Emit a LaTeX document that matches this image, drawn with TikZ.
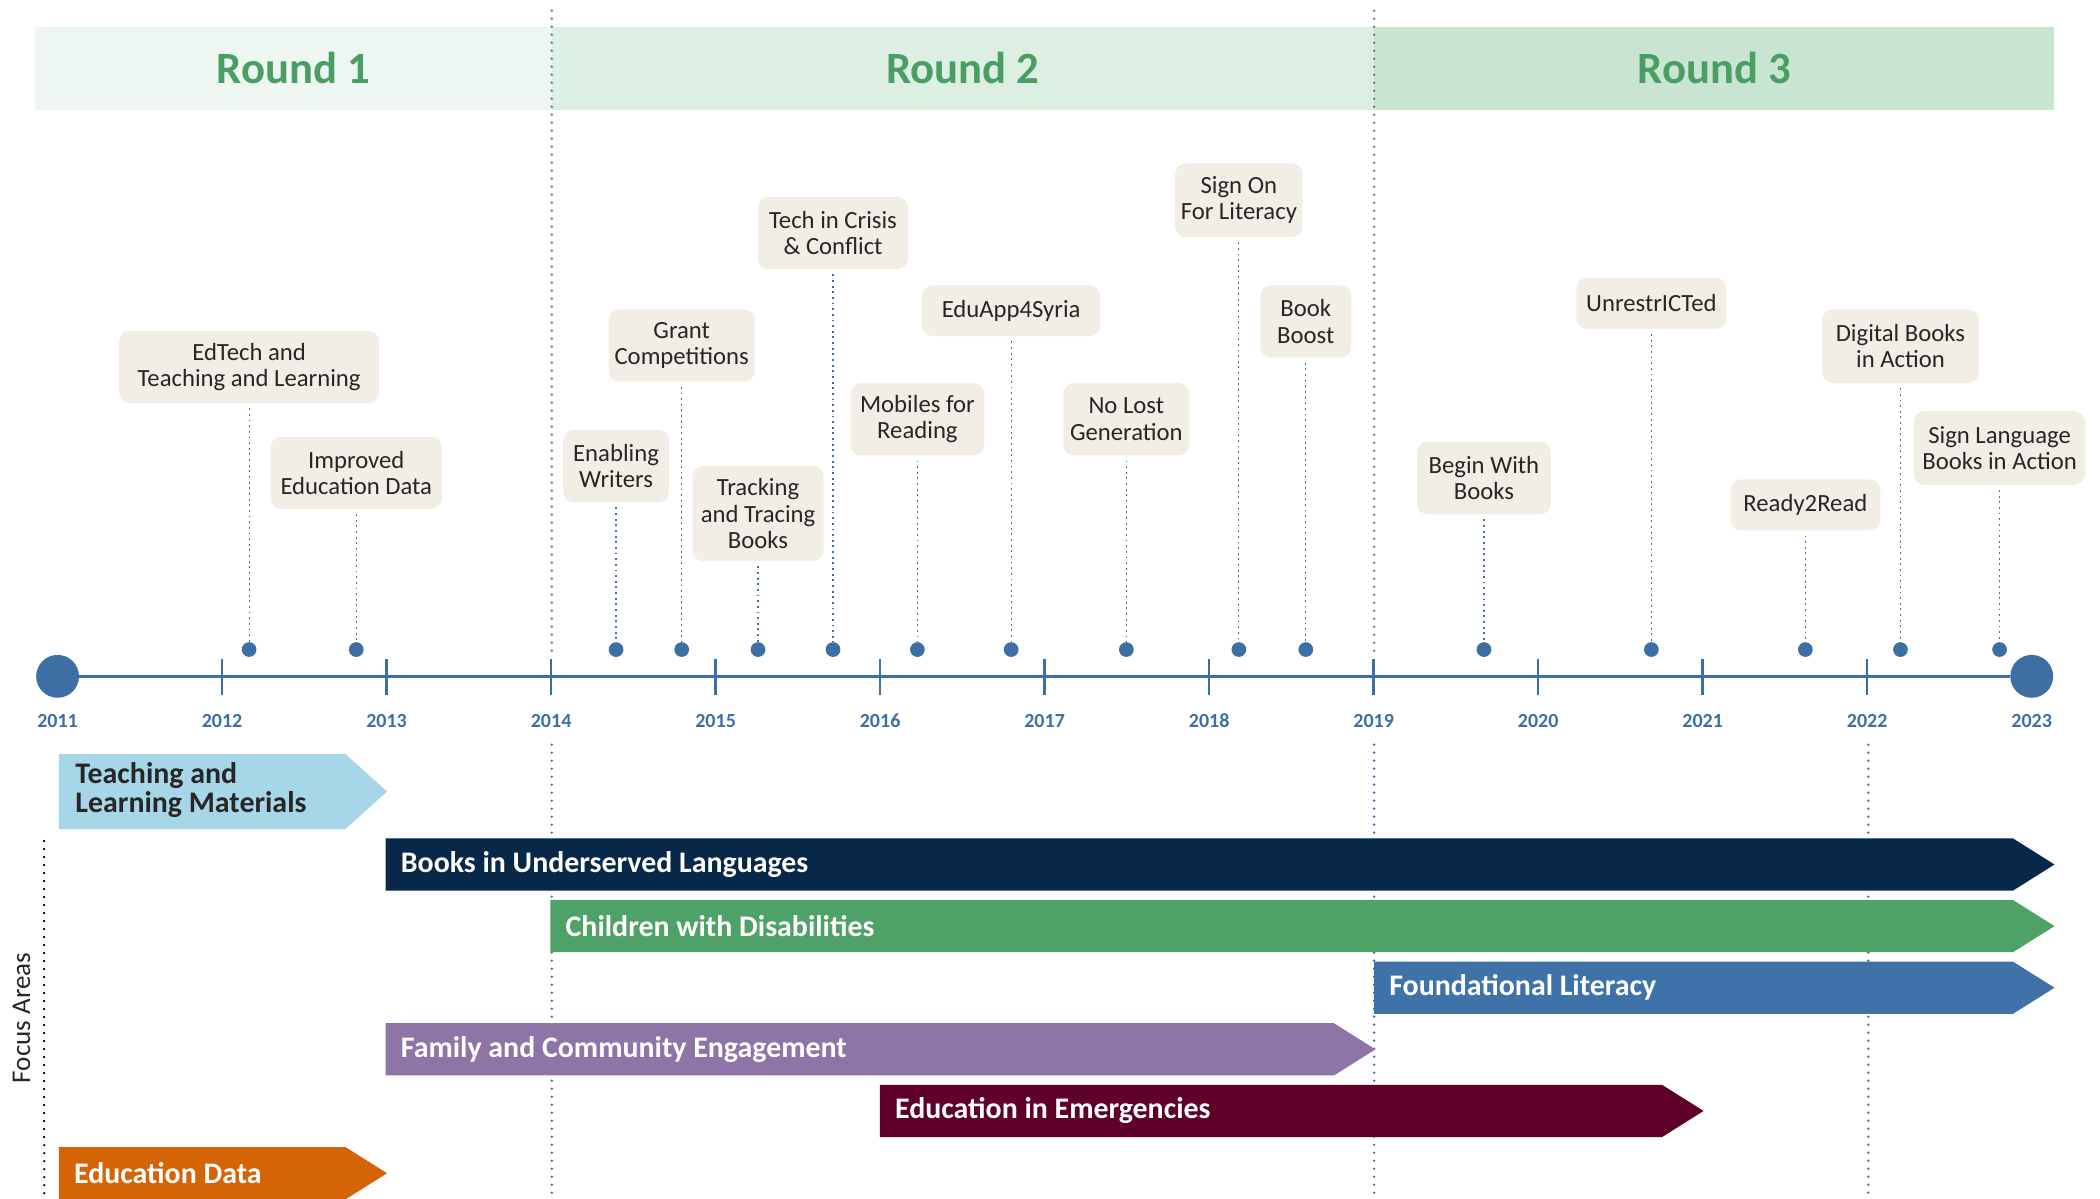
\documentclass[tikz,border=0pt]{standalone}
\usepackage{fontspec}
\setmainfont{Carlito}
\definecolor{bleuaxe}{HTML}{3E6FA4}
\definecolor{vertround}{HTML}{4A9E63}
\definecolor{bandeun}{HTML}{EDF6F0}
\definecolor{bandedeux}{HTML}{DDEEE2}
\definecolor{bandetrois}{HTML}{C9E5D1}
\definecolor{fondbeige}{HTML}{F2EEE6}
\definecolor{gristexte}{HTML}{262626}
\definecolor{barbleuclair}{HTML}{A6D6E7}
\definecolor{barmarine}{HTML}{08284A}
\definecolor{barvert}{HTML}{4EA267}
\definecolor{barbleu}{HTML}{3E72A8}
\definecolor{barviolet}{HTML}{8E74A7}
\definecolor{barbordeaux}{HTML}{5E002A}
\definecolor{barorange}{HTML}{D56307}

\begin{document}
\begin{tikzpicture}[x=0.02cm, y=-0.02cm,
  etiquette/.style={fill=fondbeige, rounded corners=4.5pt, align=center, inner xsep=1pt, inner ysep=1pt, text=gristexte, font=\fontsize{10.5}{11.2}\selectfont},
  petitpoint/.style={circle, fill=bleuaxe, inner sep=0pt, minimum size=0.22cm},
  grospoint/.style={circle, fill=bleuaxe, inner sep=0pt, minimum size=0.64cm},
  lien/.style={bleuaxe, line width=0.5pt, dash pattern=on 0.8pt off 1.6pt, shorten <=2pt},
  separation/.style={bleuaxe, line width=1.1pt, line cap=round, dash pattern=on 0pt off 3.4pt},
  axe/.style={bleuaxe, line width=1.1pt},
  annee/.style={text=bleuaxe, font=\fontsize{8.5}{10}\selectfont\bfseries},
  tour/.style={text=vertround, font=\fontsize{19}{22}\selectfont\bfseries},
  barre/.style={anchor=west, text=white, inner sep=0pt, align=left, font=\fontsize{12.7}{12.5}\selectfont\bfseries}]
  \useasboundingbox (0,0) rectangle (1568,895);

  % Bandes des tours
  \fill [bandeun] (26,20) rectangle (412,82);
  \fill [bandedeux] (412,20) rectangle (1026,82);
  \fill [bandetrois] (1026,20) rectangle (1534,82);
  \node [tour] (tour1) at (219,51) {Round 1};
  \node [tour] (tour2) at (719,51) {Round 2};
  \node [tour] (tour3) at (1280,51) {Round 3};

  % Séparations
  \draw [separation] (412,8) -- (412,490);
  \draw [separation] (412,556) -- (412,895);
  \draw [separation] (1026,8) -- (1026,490);
  \draw [separation] (1026,556) -- (1026,895);
  \draw [separation] (1395,556) -- (1395,895);

  % Axe des années
  \node [grospoint] (debut) at (43,505) {};
  \node [grospoint] (fin) at (1517,505) {};
  \draw [axe] (debut) -- (fin);
  \foreach \i in {2012,...,2022}
  {
    \pgfmathsetmacro{\x}{43 + (\i-2011)*122.83};
    \draw [axe] (\x,492) -- (\x,519);
  }
  \foreach \i in {2011,...,2023}
  {
    \pgfmathsetmacro{\x}{43 + (\i-2011)*122.83};
    \node [annee] (a\i) at (\x,538) {\i};
  }

  % Projets : nom / x / y / largeur / hauteur / texte
  \foreach \nom/\xe/\ye/\larg/\haut/\txt in {
    edtech/186/274/194/54/{EdTech and\\Teaching and Learning},
    improved/266/353/128/54/{Improved\\Education Data},
    writers/460/348/79/54/{Enabling\\Writers},
    grant/509/258/109/54/{Grant\\Competitions},
    tracking/566/383.5/98/71/{Tracking\\and Tracing\\Books},
    crisis/622/174/112/54/{Tech in Crisis\\\& Conflict},
    mobiles/685/313/100/54/{Mobiles for\\Reading},
    eduapp/755/232/133/38/{EduApp4Syria},
    nolost/841/313/94/54/{No Lost\\Generation},
    signon/925/149.5/95/55/{Sign On\\For Literacy},
    boost/975/240/68/54/{Book\\Boost},
    beginwith/1108/357/100/54/{Begin With\\Books},
    unrestricted/1233/226.5/112/38/{UnrestrICTed},
    ready/1348/377/112/38/{Ready2Read},
    digital/1419/258.5/117/55/{Digital Books\\in Action},
    signlang/1493/334.5/128/55/{Sign Language\\Books in Action}}
  {
    \node [etiquette, minimum width=\larg*0.02cm, minimum height=\haut*0.02cm] (\nom) at (\xe,\ye) {\txt};
    \node [petitpoint] (p\nom) at (\xe,485) {};
    \draw [lien] (\nom) -- (p\nom);
  }

  % Domaines
  \node [rotate=90, text=gristexte, font=\fontsize{11.5}{12}\selectfont] (focus) at (16,760) {Focus Areas};
  \draw [black, line width=1.1pt, line cap=round, dash pattern=on 0pt off 3.4pt] (33,628) -- (33,895);

  \fill [barbleuclair] (44,563) -- (258,563) -- (289,591) -- (258,619) -- (44,619) -- cycle;
  \node [barre, text=gristexte] (materiel) at (56,590) {Teaching and\\Learning Materials};

  \foreach \xa/\xb/\ym/\col/\nom/\txt in {
    288/1534/645.5/barmarine/langues/Books in Underserved Languages,
    411/1534/691.5/barvert/handicap/Children with Disabilities,
    1026/1534/737.5/barbleu/litteratie/Foundational Literacy,
    288/1027/783.5/barviolet/famille/Family and Community Engagement,
    657/1272/829.5/barbordeaux/urgence/Education in Emergencies,
    44/289/876/barorange/donnees/Education Data}
  {
    \fill [\col] (\xa,\ym-19.5) -- (\xb-31,\ym-19.5) -- (\xb,\ym) -- (\xb-31,\ym+19.5) -- (\xa,\ym+19.5) -- cycle;
    \node [barre] (\nom) at (\xa+11,\ym) {\txt};
  }
\end{tikzpicture}
\end{document}
